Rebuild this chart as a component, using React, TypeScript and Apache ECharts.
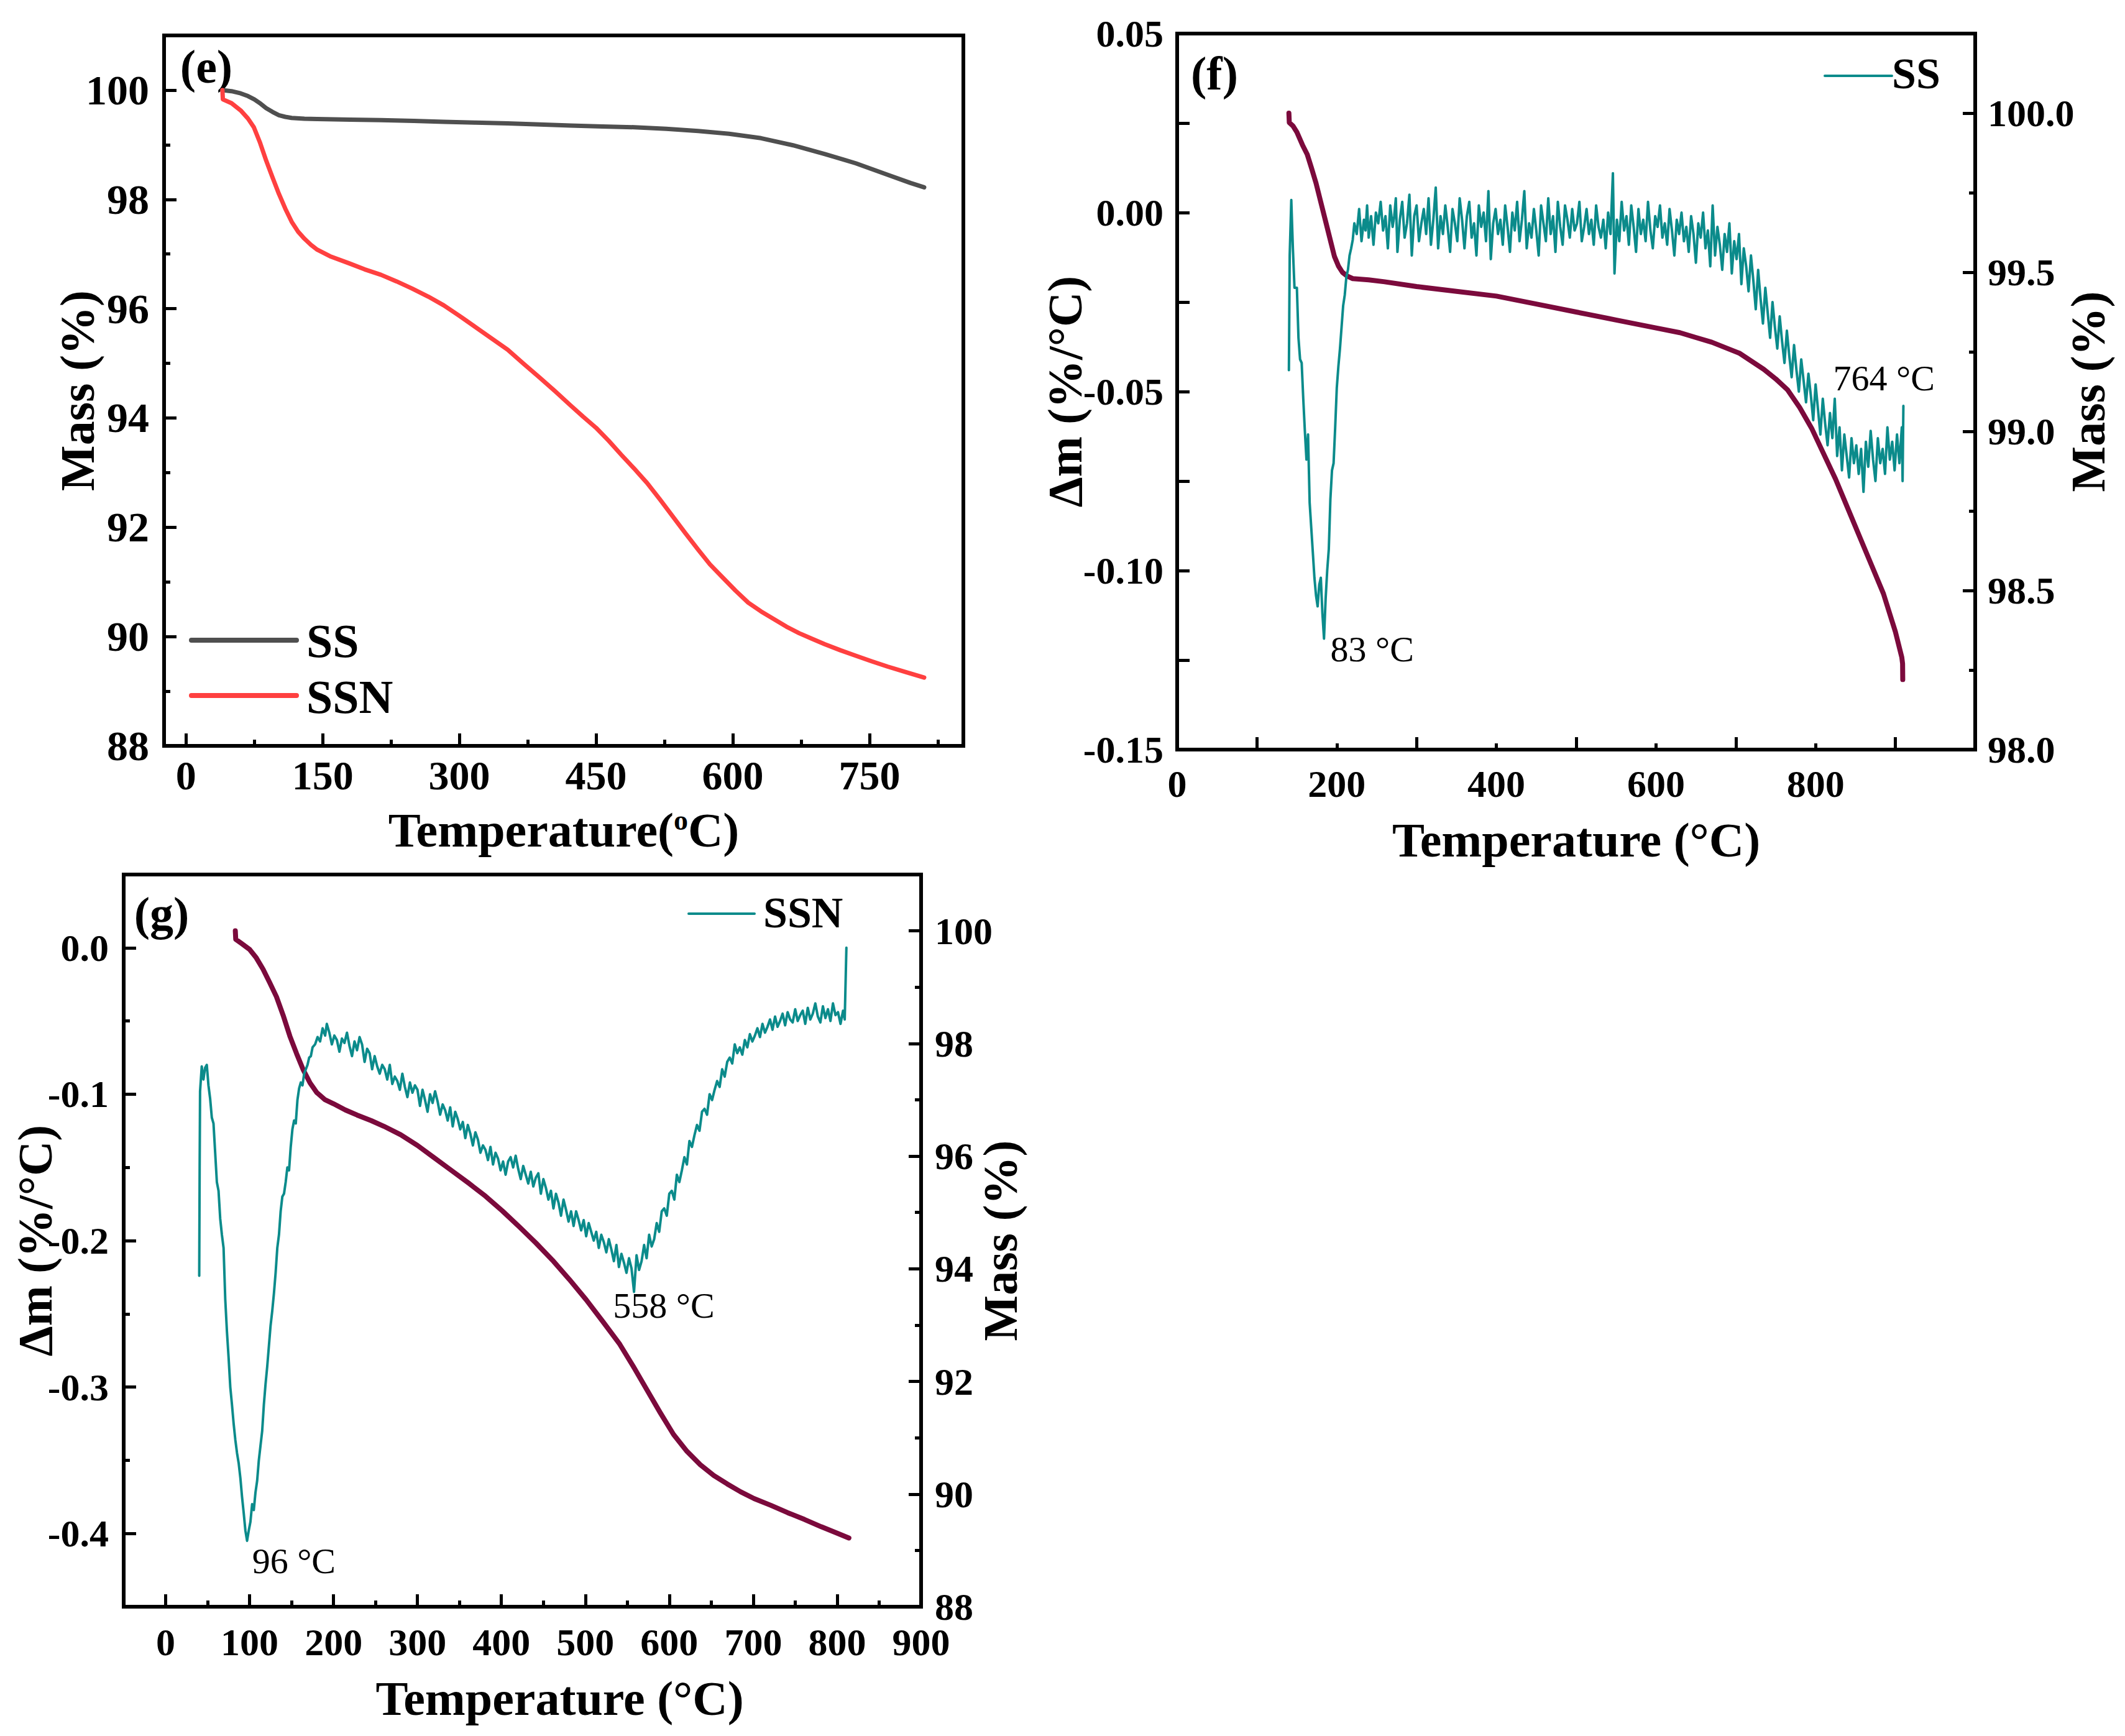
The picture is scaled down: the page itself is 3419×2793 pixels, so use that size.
import { useEffect, useRef } from 'react';
import * as echarts from 'echarts';

const FONT = '"Liberation Serif", "Times New Roman", serif';
const TEAL = '#0b8b8b';
const WINE = '#7b0a3c';

// (e) mass loss, [temperature °C, mass %]
const ssMass: number[][] = [
  [40, 100.0], [50, 99.98], [60, 99.94], [68, 99.89], [75, 99.83], [82, 99.75], [88, 99.67],
  [95, 99.6], [102, 99.54], [109, 99.51], [116, 99.49], [130, 99.475], [144, 99.47], [180, 99.46],
  [214, 99.45], [250, 99.435], [283, 99.42], [318, 99.405], [353, 99.39], [388, 99.37],
  [422, 99.35], [457, 99.335], [492, 99.32], [527, 99.29], [562, 99.25], [596, 99.2],
  [631, 99.12], [666, 98.99], [701, 98.83], [735, 98.66], [770, 98.45], [795, 98.3], [810, 98.22],
];
const ssnMass: number[][] = [
  [40, 100.0], [40.5, 99.83], [50, 99.76], [60.5, 99.62], [68, 99.48], [74.5, 99.32], [81, 99.05],
  [88, 98.71], [95, 98.4], [102, 98.1], [109, 97.83], [116, 97.59], [123, 97.41], [130, 97.28],
  [137, 97.17], [144, 97.08], [158, 96.96], [179, 96.83], [196, 96.72], [214, 96.62], [231, 96.5],
  [248, 96.37], [266, 96.22], [283, 96.06], [300, 95.87], [318, 95.66], [335, 95.46], [353, 95.25],
  [370, 95.0], [388, 94.74], [405, 94.49], [422, 94.23], [436, 94.02], [450, 93.82], [464, 93.58],
  [478, 93.32], [492, 93.07], [506, 92.81], [520, 92.51], [534, 92.2], [548, 91.89], [562, 91.59],
  [575, 91.32], [589, 91.08], [603, 90.84], [617, 90.62], [631, 90.46], [645, 90.32], [659, 90.18],
  [673, 90.06], [687, 89.96], [701, 89.86], [718, 89.75], [735, 89.65], [752, 89.55], [770, 89.45],
  [790, 89.35], [810, 89.25],
];

// (f) SS: mass % and derivative %/°C
const ssTga: number[][] = [
  [140, 100.0], [140.5, 99.97], [145, 99.96], [150, 99.94], [157, 99.9], [163, 99.87], [168, 99.83],
  [174, 99.78], [180, 99.72], [186, 99.66], [192, 99.6], [197, 99.55], [202, 99.52], [207, 99.5],
  [213, 99.488], [220, 99.48], [240, 99.476], [260, 99.47], [300, 99.455], [350, 99.44],
  [400, 99.425], [450, 99.4], [500, 99.375], [550, 99.35], [600, 99.325], [630, 99.31], [650, 99.295],
  [670, 99.28], [690, 99.26], [705, 99.245], [720, 99.22], [735, 99.195], [750, 99.165], [765, 99.13],
  [780, 99.075], [795, 99.01], [810, 98.93], [825, 98.85], [840, 98.76], [855, 98.67], [870, 98.58],
  [885, 98.49], [900, 98.37], [908, 98.29], [909, 98.27], [909.2, 98.22],
];
const ssDtg: number[][] = [
  [140, -0.044], [141, -0.012], [143, 0.0035], [145, -0.01], [147, -0.021], [150, -0.021],
  [152, -0.035], [154, -0.041], [156, -0.042], [158, -0.052], [160, -0.061], [162, -0.069],
  [164, -0.062], [166, -0.081], [168, -0.088], [170, -0.095], [172, -0.102], [174, -0.107],
  [176, -0.11], [178, -0.104], [180, -0.102], [182, -0.112], [184, -0.119], [186, -0.108],
  [188, -0.1], [190, -0.094], [192, -0.08], [194, -0.072], [196, -0.07], [198, -0.06],
  [200, -0.049], [202, -0.043], [204, -0.038], [206, -0.032], [208, -0.026], [210, -0.023],
  [212, -0.018], [214, -0.016], [216, -0.012], [218, -0.01], [220, -0.0076], [222, -0.003],
  [225, -0.006], [228, 0.001], [231, -0.008], [234, -0.002], [236, -0.005], [238, 0.002], [240, -0.007],
  [243, -0.001], [246, -0.009], [249, 0.0], [252, -0.003], [255, 0.003], [258, -0.005],
  [261, -0.001], [264, -0.01], [267, 0.002], [270, -0.004], [272, -0.001], [274, 0.004], [276, -0.011],
  [279, -0.002], [282, 0.003], [285, -0.007], [288, -0.003], [291, 0.005], [294, -0.012],
  [297, -0.001], [300, 0.002], [303, -0.008], [306, -0.003], [309, 0.001], [312, -0.006],
  [315, 0.004], [318, -0.009], [321, -0.002], [324, 0.007], [327, -0.01], [330, -0.001],
  [333, -0.006], [336, 0.002], [339, -0.004], [342, -0.011], [345, 0.001], [348, -0.003],
  [351, -0.008], [354, 0.004], [357, -0.002], [360, -0.01], [363, -0.001], [366, 0.003],
  [369, -0.007], [372, -0.003], [375, -0.012], [378, 0.002], [381, -0.004], [384, 0.0],
  [387, -0.008], [390, 0.006], [393, -0.013], [396, -0.003], [399, 0.001], [402, -0.006],
  [405, -0.002], [408, -0.009], [411, 0.002], [414, -0.004], [417, -0.011], [420, 0.0],
  [423, -0.005], [426, 0.003], [429, -0.008], [432, -0.002], [435, 0.006], [438, -0.01],
  [441, -0.003], [444, -0.007], [447, 0.001], [450, -0.005], [453, -0.012], [456, 0.002],
  [459, -0.003], [462, -0.008], [465, 0.004], [468, -0.006], [471, -0.001], [474, -0.011],
  [477, 0.003], [480, -0.004], [483, -0.009], [486, 0.002], [489, -0.002], [492, -0.007],
  [495, 0.001], [498, -0.005], [501, -0.003], [504, 0.003], [507, -0.008], [510, -0.004],
  [513, 0.001], [516, -0.006], [519, -0.002], [522, -0.009], [525, 0.002], [528, -0.004],
  [531, -0.007], [534, -0.002], [537, -0.01], [540, 0.0], [543, -0.006], [546, 0.011],
  [548, -0.017], [551, -0.002], [554, -0.008], [557, 0.003], [560, -0.005], [563, -0.001],
  [566, -0.009], [569, 0.002], [572, -0.004], [575, -0.011], [578, 0.001], [581, -0.006],
  [584, -0.002], [587, -0.008], [590, 0.003], [593, -0.005], [596, -0.01], [599, -0.001],
  [602, -0.004], [605, 0.002], [608, -0.007], [611, -0.003], [614, -0.009], [617, 0.001],
  [620, -0.005], [623, -0.012], [626, -0.002], [629, -0.006], [632, 0.0], [635, -0.008],
  [638, -0.004], [641, -0.011], [644, -0.001], [647, -0.006], [650, -0.014], [653, -0.003],
  [656, -0.007], [659, 0.0], [662, -0.01], [665, -0.005], [668, -0.015], [671, 0.002],
  [674, -0.012], [677, -0.004], [680, -0.009], [683, -0.016], [686, -0.006], [689, -0.011],
  [692, -0.003], [695, -0.017], [698, -0.008], [701, -0.013], [704, -0.006], [707, -0.02],
  [710, -0.01], [713, -0.015], [716, -0.022], [719, -0.012], [722, -0.019], [725, -0.027],
  [728, -0.016], [731, -0.024], [734, -0.031], [737, -0.021], [740, -0.028], [743, -0.035],
  [746, -0.025], [749, -0.032], [752, -0.038], [755, -0.029], [758, -0.036], [761, -0.042],
  [764, -0.033], [767, -0.04], [770, -0.046], [773, -0.037], [776, -0.044], [779, -0.05],
  [782, -0.041], [785, -0.047], [788, -0.053], [791, -0.045], [794, -0.051], [797, -0.058],
  [800, -0.048], [803, -0.055], [806, -0.062], [809, -0.052], [812, -0.059], [815, -0.065],
  [818, -0.056], [821, -0.063], [824, -0.052], [827, -0.068], [830, -0.06], [833, -0.072],
  [836, -0.062], [839, -0.068], [842, -0.074], [845, -0.063], [848, -0.07], [851, -0.065],
  [854, -0.073], [857, -0.066], [860, -0.078], [863, -0.064], [866, -0.071], [869, -0.061],
  [872, -0.069], [875, -0.075], [878, -0.063], [881, -0.07], [884, -0.066], [887, -0.073],
  [890, -0.06], [893, -0.069], [896, -0.064], [899, -0.072], [902, -0.062], [905, -0.07],
  [908, -0.06], [909, -0.075], [910, -0.054],
];

// (g) SSN: mass % and derivative %/°C
const ssnTga: number[][] = [
  [83, 100.0], [83.5, 99.85], [90, 99.78], [100, 99.67], [108, 99.52], [116, 99.32], [124, 99.08],
  [132, 98.83], [140, 98.5], [148, 98.13], [156, 97.82], [164, 97.53], [172, 97.3], [180, 97.13],
  [190, 97.0], [200, 96.93], [214, 96.82], [228, 96.73], [245, 96.63], [260, 96.53], [280, 96.38],
  [300, 96.19], [320, 95.97], [341, 95.74], [361, 95.52], [381, 95.29], [401, 95.03], [421, 94.75],
  [441, 94.46], [461, 94.15], [481, 93.81], [501, 93.45], [521, 93.06], [541, 92.66], [557, 92.27],
  [573, 91.86], [589, 91.45], [605, 91.06], [621, 90.76], [637, 90.52], [653, 90.33], [669, 90.18],
  [685, 90.04], [701, 89.92], [721, 89.8], [741, 89.67], [761, 89.55], [781, 89.42], [801, 89.3],
  [814, 89.22],
];
const ssnDtg: number[][] = [
  [40, -0.224], [40.5, -0.15], [41, -0.098], [43, -0.081], [45, -0.09], [47, -0.082], [49, -0.08],
  [51, -0.094], [53, -0.103], [55, -0.116], [57, -0.12], [59, -0.14], [61, -0.16], [63, -0.166],
  [65, -0.185], [67, -0.196], [69, -0.205], [71, -0.24], [73, -0.262], [75, -0.28], [77, -0.3],
  [79, -0.312], [81, -0.325], [83, -0.336], [85, -0.345], [87, -0.352], [89, -0.362], [91, -0.375],
  [93, -0.386], [95, -0.398], [97, -0.405], [99, -0.398], [101, -0.392], [103, -0.38],
  [105, -0.384], [107, -0.372], [109, -0.364], [111, -0.35], [113, -0.34], [115, -0.33],
  [117, -0.312], [119, -0.298], [121, -0.286], [123, -0.272], [125, -0.258], [127, -0.248],
  [129, -0.236], [131, -0.222], [133, -0.205], [135, -0.196], [137, -0.18], [139, -0.17],
  [141, -0.168], [143, -0.16], [145, -0.15], [147, -0.152], [149, -0.136], [151, -0.124],
  [153, -0.118], [155, -0.12], [157, -0.104], [159, -0.096], [161, -0.092], [163, -0.094],
  [165, -0.086], [167, -0.083], [169, -0.08], [171, -0.075], [173, -0.074], [175, -0.068],
  [178, -0.066], [181, -0.061], [184, -0.064], [187, -0.055], [190, -0.06], [192, -0.052],
  [195, -0.058], [198, -0.066], [201, -0.06], [204, -0.063], [207, -0.071], [210, -0.062],
  [213, -0.065], [216, -0.058], [219, -0.067], [222, -0.074], [225, -0.064], [228, -0.07],
  [231, -0.061], [234, -0.066], [237, -0.078], [240, -0.069], [243, -0.072], [246, -0.083],
  [249, -0.074], [252, -0.081], [255, -0.086], [258, -0.08], [261, -0.083], [264, -0.09],
  [267, -0.08], [270, -0.093], [273, -0.088], [276, -0.091], [279, -0.097], [282, -0.086],
  [285, -0.095], [288, -0.102], [291, -0.092], [294, -0.099], [297, -0.094], [300, -0.097],
  [303, -0.108], [306, -0.097], [309, -0.104], [312, -0.112], [315, -0.1], [318, -0.106],
  [321, -0.098], [324, -0.105], [327, -0.114], [330, -0.107], [333, -0.111], [336, -0.118],
  [339, -0.109], [342, -0.122], [345, -0.112], [348, -0.117], [351, -0.124], [354, -0.119],
  [357, -0.13], [360, -0.121], [363, -0.127], [366, -0.135], [369, -0.126], [372, -0.131],
  [375, -0.14], [378, -0.135], [381, -0.138], [384, -0.145], [387, -0.136], [390, -0.148],
  [393, -0.14], [396, -0.144], [399, -0.152], [402, -0.146], [405, -0.155], [408, -0.146],
  [411, -0.143], [414, -0.15], [417, -0.142], [420, -0.151], [423, -0.158], [426, -0.149],
  [429, -0.155], [432, -0.161], [435, -0.153], [438, -0.163], [441, -0.157], [444, -0.154],
  [447, -0.168], [450, -0.158], [453, -0.164], [456, -0.172], [459, -0.166], [462, -0.178],
  [465, -0.168], [468, -0.174], [471, -0.183], [474, -0.172], [477, -0.179], [480, -0.187],
  [483, -0.18], [486, -0.19], [489, -0.18], [492, -0.186], [495, -0.193], [498, -0.186],
  [501, -0.197], [504, -0.188], [507, -0.194], [510, -0.2], [513, -0.194], [516, -0.205],
  [519, -0.196], [522, -0.201], [525, -0.208], [528, -0.199], [531, -0.206], [534, -0.214],
  [537, -0.203], [540, -0.218], [543, -0.209], [546, -0.215], [549, -0.222], [552, -0.212],
  [555, -0.219], [558, -0.235], [561, -0.21], [564, -0.22], [567, -0.214], [570, -0.203],
  [573, -0.212], [576, -0.196], [579, -0.204], [582, -0.199], [585, -0.188], [588, -0.194],
  [591, -0.18], [594, -0.178], [597, -0.183], [600, -0.168], [603, -0.166], [606, -0.172],
  [609, -0.155], [612, -0.16], [615, -0.152], [618, -0.143], [621, -0.148], [624, -0.132],
  [627, -0.136], [630, -0.128], [633, -0.121], [636, -0.125], [639, -0.112], [642, -0.11],
  [645, -0.114], [648, -0.1], [651, -0.104], [654, -0.097], [657, -0.091], [660, -0.095],
  [663, -0.083], [666, -0.088], [669, -0.078], [672, -0.075], [675, -0.079], [678, -0.066],
  [681, -0.072], [684, -0.068], [687, -0.073], [690, -0.063], [693, -0.068], [696, -0.059],
  [699, -0.064], [702, -0.06], [705, -0.055], [708, -0.061], [711, -0.052], [714, -0.058],
  [717, -0.054], [720, -0.049], [723, -0.056], [726, -0.047], [729, -0.054], [732, -0.05],
  [735, -0.045], [738, -0.053], [741, -0.044], [744, -0.049], [747, -0.051], [750, -0.042],
  [753, -0.05], [756, -0.046], [759, -0.043], [762, -0.052], [765, -0.041], [768, -0.049],
  [771, -0.045], [774, -0.038], [777, -0.047], [780, -0.051], [783, -0.04], [786, -0.048],
  [789, -0.042], [792, -0.05], [795, -0.038], [798, -0.046], [801, -0.044], [804, -0.052],
  [807, -0.043], [809, -0.049], [811, 0.0],
];

// tick positions
const eTempLabels = [0, 150, 300, 450, 600, 750];
const eTempMinor = [75, 225, 375, 525, 675, 825];
const eMassLabels = [88, 90, 92, 94, 96, 98, 100];
const eMassMinor = [89, 91, 93, 95, 97, 99];
const fTempLabels = [0, 200, 400, 600, 800];
const fTempLong = [100, 300, 500, 700, 900];
const fDtgLabels = [-0.15, -0.1, -0.05, 0, 0.05];
const fDtgTicks = [-0.125, -0.1, -0.075, -0.05, -0.025, 0, 0.025];
const fMassLabels = [98, 98.5, 99, 99.5, 100];
const fMassMinor = [98.25, 98.75, 99.25, 99.75];
const gTempLabels = [0, 100, 200, 300, 400, 500, 600, 700, 800, 900];
const gTempMinor = [50, 150, 250, 350, 450, 550, 650, 750, 850];
const gDtgLabels = [-0.4, -0.3, -0.2, -0.1, 0];
const gDtgMinor = [-0.35, -0.25, -0.15, -0.05];
const gMassLabels = [88, 90, 92, 94, 96, 98, 100];
const gMassMinor = [89, 91, 93, 95, 97, 99];

// peak labels
const ssPeaks = ['83 °C', '764 °C'];
const ssnPeaks = ['96 °C', '558 °C'];

const tickLine = { color: '#000', width: 5 };

function mainAxis(
  gridIndex: number,
  position: string,
  min: number,
  max: number,
  labels: number[],
  ticks: number[],
  fmt: (v: number) => string,
  fontSize: number,
  margin: number,
  name: string,
  nameGap: number,
  nameStyle: any,
) {
  const vertical = position === 'left' || position === 'right';
  return {
    type: 'value',
    gridIndex,
    position,
    min,
    max,
    axisLine: { show: false, onZero: false },
    splitLine: { show: false },
    axisTick: { show: true, inside: true, length: 20, lineStyle: tickLine, customValues: ticks },
    axisLabel: {
      show: true,
      customValues: labels,
      formatter: fmt,
      fontSize,
      fontWeight: 'bold',
      fontFamily: FONT,
      color: '#000',
      margin,
    },
    name,
    nameLocation: 'middle',
    nameGap,
    nameMoveOverlap: false,
    nameRotate: vertical ? 90 : 0,
    nameTextStyle: { color: '#000', fontFamily: FONT, fontWeight: 'bold', ...nameStyle },
  };
}

function minorAxis(gridIndex: number, position: string, min: number, max: number, ticks: number[]) {
  return {
    type: 'value',
    gridIndex,
    position,
    min,
    max,
    axisLine: { show: false, onZero: false },
    splitLine: { show: false },
    axisLabel: { show: false },
    axisTick: { show: true, inside: true, length: 10, lineStyle: tickLine, customValues: ticks },
  };
}

function curve(name: string, data: number[][], color: string, width: number, xi: number, yi: number) {
  return {
    type: 'line',
    name,
    data,
    xAxisIndex: xi,
    yAxisIndex: yi,
    showSymbol: false,
    symbol: 'none',
    silent: true,
    lineStyle: { color, width, cap: 'round', join: 'round' },
    itemStyle: { color },
  };
}

function peakMarks(labels: string[], coords: number[][]) {
  return {
    symbol: 'circle',
    symbolSize: 0,
    silent: true,
    label: {
      show: true,
      position: 'right',
      distance: 0,
      formatter: '{b}',
      fontSize: 58,
      fontFamily: FONT,
      color: '#000',
    },
    data: labels.map((name, i) => ({ name, coord: coords[i] })),
  };
}

const int = (v: number) => String(v);
const fix1 = (v: number) => v.toFixed(1);
const fix2 = (v: number) => v.toFixed(2);

function text(t: string, x: number, y: number, size: number, align = 'center') {
  return {
    type: 'text',
    x,
    y,
    style: {
      text: t,
      fontSize: size,
      fontWeight: 'bold',
      fontFamily: FONT,
      fill: '#000',
      align,
      verticalAlign: 'middle',
    },
  };
}

function legendLine(x1: number, x2: number, y: number, color: string, width: number) {
  return {
    type: 'line',
    shape: { x1, y1: y, x2, y2: y },
    style: { stroke: color, lineWidth: width, lineCap: 'round' },
  };
}

export default function App() {
  const ref = useRef<HTMLDivElement>(null);

  useEffect(() => {
    if (!ref.current) return;
    const chart = echarts.init(ref.current, null, { renderer: 'svg' });

    const titleSize = 78;
    const tick = 62;
    const box = { show: true, borderColor: '#000', borderWidth: 6, backgroundColor: 'transparent' };

    const option: any = {
      animation: false,
      backgroundColor: '#fff',
      textStyle: { fontFamily: FONT },
      grid: [
        { ...box, left: 264, top: 57, width: 1286, height: 1143 },
        { ...box, left: 1894, top: 54, width: 1284, height: 1152 },
        { ...box, left: 199, top: 1407, width: 1283, height: 1178 },
      ],
      xAxis: [
        mainAxis(0, 'bottom', -24, 853, eTempLabels, eTempLabels, int, 66, 14,
          '{t|Temperature(}{s|o}{t|C)}', 96, {
            rich: {
              t: { fontSize: 78, fontWeight: 'bold', fontFamily: FONT, color: '#000' },
              s: { fontSize: 46, fontWeight: 'bold', fontFamily: FONT, color: '#000', verticalAlign: 'top' },
            },
          }),
        minorAxis(0, 'bottom', -24, 853, eTempMinor),
        mainAxis(1, 'bottom', 0, 1000, fTempLabels, fTempLong, int, tick, 24, 'Temperature (°C)', 106, { fontSize: titleSize }),
        minorAxis(1, 'bottom', 0, 1000, fTempLabels),
        mainAxis(2, 'bottom', -50, 900, gTempLabels, gTempLabels, int, tick, 26, 'Temperature (°C)', 108, {
          fontSize: titleSize,
          padding: [0, 0, 0, 120],
        }),
        minorAxis(2, 'bottom', -50, 900, gTempMinor),
      ],
      yAxis: [
        mainAxis(0, 'left', 88, 101, eMassLabels, eMassLabels, int, 68, 24, 'Mass (%)', 101, { fontSize: 78 }),
        minorAxis(0, 'left', 88, 101, eMassMinor),
        mainAxis(1, 'left', -0.15, 0.05, fDtgLabels, fDtgTicks, fix2, tick, 22, 'Δm (%/°C)', 142, { fontSize: titleSize }),
        minorAxis(1, 'left', -0.15, 0.05, []),
        mainAxis(1, 'right', 98, 100.25, fMassLabels, fMassLabels, fix1, tick, 20, 'Mass (%)', 142, { fontSize: titleSize }),
        minorAxis(1, 'right', 98, 100.25, fMassMinor),
        mainAxis(2, 'left', -0.45, 0.05, gDtgLabels, gDtgLabels, fix1, tick, 24, 'Δm (%/°C)', 104, { fontSize: titleSize }),
        minorAxis(2, 'left', -0.45, 0.05, gDtgMinor),
        mainAxis(2, 'right', 88, 101, gMassLabels, gMassLabels, int, tick, 22, 'Mass (%)', 88, { fontSize: titleSize }),
        minorAxis(2, 'right', 88, 101, gMassMinor),
      ],
      series: [
        curve('SS', ssMass, '#4f4f4f', 7, 0, 0),
        curve('SSN', ssnMass, '#ff4040', 7, 0, 0),
        curve('SS mass', ssTga, WINE, 8, 2, 4),
        {
          ...curve('SS', ssDtg, TEAL, 4, 2, 2),
          markPoint: peakMarks(ssPeaks, [[192, -0.122], [822, -0.0463]]),
        },
        curve('SSN mass', ssnTga, WINE, 8, 4, 8),
        {
          ...curve('SSN', ssnDtg, TEAL, 4, 4, 6),
          markPoint: peakMarks(ssnPeaks, [[103, -0.419], [533, -0.2445]]),
        },
      ],
      graphic: [
        text('(e)', 332, 107, 76),
        legendLine(308, 477, 1030, '#4f4f4f', 8),
        legendLine(308, 477, 1119, '#ff4040', 8),
        text('SS', 493, 1031, 76, 'left'),
        text('SSN', 493, 1121, 76, 'left'),
        text('(f)', 1954, 118, 76),
        legendLine(2936, 3044, 122, TEAL, 4),
        text('SS', 3044, 118, 70, 'left'),
        text('(g)', 260, 1470, 76),
        legendLine(1108, 1214, 1470, TEAL, 4),
        text('SSN', 1228, 1468, 70, 'left'),
      ],
    };

    chart.setOption(option);
    return () => chart.dispose();
  }, []);

  return (
    <div
      ref={ref}
      style={{ position: 'absolute', left: 0, top: 0, width: 3419, height: 2793, background: '#fff' }}
    />
  );
}
